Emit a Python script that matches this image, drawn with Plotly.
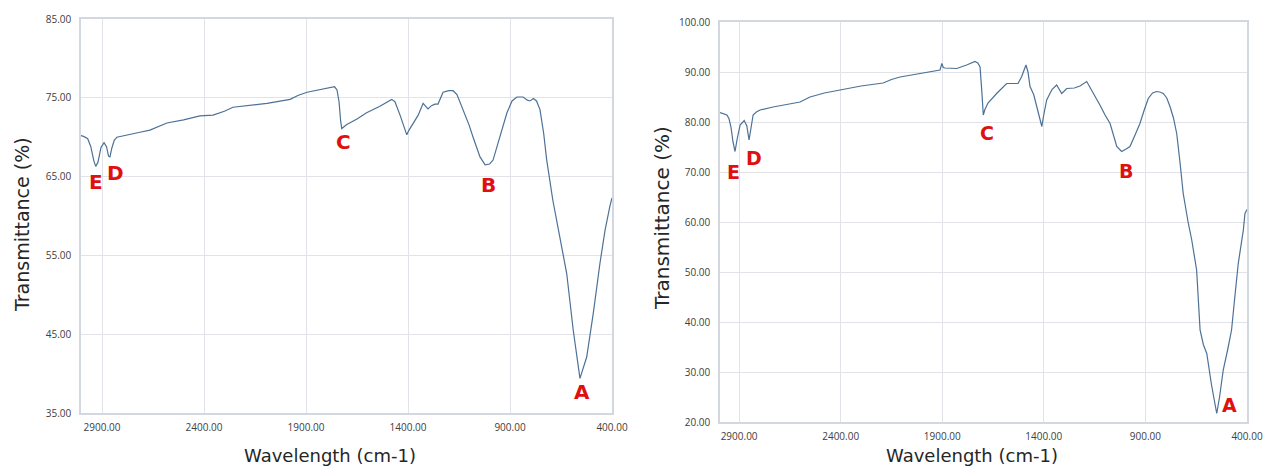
import plotly.graph_objects as go

# FTIR spectrum, first sample (wavenumber in cm-1, transmittance in %)
wn_s1 = [3003, 2990, 2970, 2955, 2940, 2931, 2920, 2905, 2890, 2878, 2868, 2861, 2852, 2840,
         2827, 2780, 2720, 2665, 2582, 2500, 2420, 2356, 2300, 2258, 2180, 2091, 1978, 1940,
         1895, 1830, 1760, 1748, 1738, 1730, 1725, 1700, 1650, 1603, 1540, 1480, 1464, 1439,
         1420, 1406, 1395, 1375, 1350, 1326, 1315, 1302, 1285, 1268, 1253, 1240, 1228, 1200,
         1179, 1160, 1130, 1100, 1081, 1060, 1047, 1022, 1000, 983, 950, 915, 890, 866, 836,
         815, 802, 785, 770, 753, 735, 720, 690, 663, 622, 590, 557, 524, 492, 459, 434, 410, 400]
t_s1 = [70.2, 70.1, 69.8, 68.8, 67.0, 66.3, 66.8, 68.7, 69.3, 68.8, 67.6, 67.5, 68.6, 69.6,
        70.0, 70.3, 70.6, 70.9, 71.8, 72.2, 72.7, 72.8, 73.3, 73.8, 74.0, 74.3, 74.8, 75.3,
        75.7, 76.0, 76.4, 76.0, 74.5, 72.0, 71.1, 71.6, 72.3, 73.1, 73.9, 74.8, 74.5, 72.8,
        71.5, 70.3, 70.9, 71.8, 72.8, 74.3, 74.0, 73.6, 74.0, 74.2, 74.2, 74.9, 75.7, 75.9,
        75.9, 75.4, 73.5, 71.5, 70.0, 68.6, 67.5, 66.5, 66.6, 67.1, 70.0, 73.1, 74.6, 75.1, 75.1,
        74.7, 74.6, 74.9, 74.6, 73.5, 70.5, 67.1, 62.0, 58.2, 52.7, 45.5, 39.4, 42.1, 47.6, 54.0,
        58.2, 61.3, 62.3]

# FTIR spectrum, second sample
wn_s2 = [2994, 2975, 2960, 2950, 2940, 2930, 2920, 2910, 2895, 2875, 2862, 2851, 2842, 2831,
         2815, 2797, 2733, 2650, 2600, 2551, 2480, 2403, 2300, 2191, 2150, 2108, 2000, 1911,
         1902, 1895, 1886, 1829, 1780, 1739, 1725, 1714, 1705, 1698, 1690, 1675, 1630, 1583,
         1527, 1509, 1488, 1478, 1468, 1450, 1435, 1410, 1400, 1386, 1360, 1337, 1312, 1287,
         1250, 1222, 1189, 1170, 1158, 1124, 1100, 1074, 1041, 1017, 995, 976, 950, 927, 905,
         886, 865, 845, 830, 812, 795, 779, 762, 746, 730, 714, 690, 672, 648, 631, 615, 598,
         575, 549, 535, 517, 495, 476, 460, 443, 418, 410, 400]
t_s2 = [81.9, 81.7, 81.4, 80.7, 79.0, 76.0, 74.1, 76.5, 79.4, 80.3, 79.2, 76.4, 78.6, 81.4,
        82.0, 82.4, 83.0, 83.6, 84.0, 85.0, 85.8, 86.4, 87.2, 87.8, 88.5, 89.0, 89.8, 90.4,
        91.7, 90.9, 90.8, 90.7, 91.4, 92.1, 91.8, 91.0, 86.0, 81.4, 82.5, 83.8, 85.8, 87.7,
        87.7, 89.1, 91.4, 90.0, 87.1, 85.5, 83.1, 79.1, 81.5, 84.4, 86.5, 87.4, 85.7, 86.7,
        86.8, 87.2, 88.1, 86.8, 85.7, 83.4, 81.5, 79.7, 75.1, 74.1, 74.6, 75.1, 77.5, 79.7, 82.5,
        84.7, 85.8, 86.1, 86.0, 85.7, 84.8, 83.1, 80.8, 77.7, 72.0, 65.7, 60.0, 56.4, 50.4, 38.4,
        35.5, 33.7, 27.5, 21.7, 25.0, 30.4, 34.5, 38.4, 45.0, 51.7, 58.4, 61.7, 62.5]

# Peak labels and their positions
peak_names = ["A", "B", "C", "D", "E"]
peak_wn_s1 = [548, 1003, 1717, 2834, 2929]
peak_t_s1 = [37.7, 63.9, 69.4, 65.5, 64.35]
peak_wn_s2 = [484, 997, 1681, 2826, 2928]
peak_t_s2 = [23.4, 70.3, 77.9, 72.9, 70.1]

x_ticks = [2900, 2400, 1900, 1400, 900, 400]
y_ticks_s1 = [35, 45, 55, 65, 75, 85]
y_ticks_s2 = [20, 30, 40, 50, 60, 70, 80, 90, 100]

W, H = 1265, 468
line_color = "#4d7196"
label_red = "#e01010"
grid_color = "#e1e3e8"
frame_color = "#d3d7df"
tick_font = dict(family="Open Sans", size=10, color="#404040")

fig = go.Figure()
fig.add_trace(go.Scatter(x=wn_s1, y=t_s1, mode="lines", xaxis="x", yaxis="y",
                         line=dict(color=line_color, width=1.2), showlegend=False))
fig.add_trace(go.Scatter(x=wn_s2, y=t_s2, mode="lines", xaxis="x2", yaxis="y2",
                         line=dict(color=line_color, width=1.2), showlegend=False))

annotations = []
for name, x, y in zip(peak_names, peak_wn_s1, peak_t_s1):
    annotations.append(dict(x=x, y=y, xref="x", yref="y", text=name, showarrow=False,
                            font=dict(family="DejaVu Sans", size=20, color=label_red, weight="bold")))
for name, x, y in zip(peak_names, peak_wn_s2, peak_t_s2):
    annotations.append(dict(x=x, y=y, xref="x2", yref="y2", text=name, showarrow=False,
                            font=dict(family="DejaVu Sans", size=19, color=label_red, weight="bold")))

# Axis titles (pixel centre, text, rotation, font size)
for xc, yc, txt, ang, fs in [(22, 225, "Transmittance (%)", -90, 19),
                             (662, 218, "Transmittance (%)", -90, 20),
                             (330, 455, "Wavelength (cm-1)", 0, 18),
                             (972, 455, "Wavelength (cm-1)", 0, 18)]:
    annotations.append(dict(x=xc / W, y=1 - yc / H, xref="paper", yref="paper", text=txt,
                            showarrow=False, textangle=ang,
                            font=dict(family="DejaVu Sans", size=fs, color="#262626"),
                            xanchor="center", yanchor="middle"))

common_x = dict(tickvals=x_ticks, tickformat=".2f", showgrid=True, gridcolor=grid_color,
                gridwidth=1, showline=True, linecolor=frame_color, linewidth=1.5, mirror=True,
                tickfont=tick_font, zeroline=False, ticks="", ticklabelstandoff=4)
common_y = dict(tickformat=".2f", showgrid=True, gridcolor=grid_color, gridwidth=1,
                showline=True, linecolor=frame_color, linewidth=1.5, mirror=True,
                tickfont=tick_font, zeroline=False, ticks="", ticklabelstandoff=6)

fig.update_layout(
    width=W, height=H, autosize=False,
    margin=dict(l=0, r=0, t=0, b=0, autoexpand=False),
    paper_bgcolor="white", plot_bgcolor="white",
    xaxis=dict(domain=[81 / W, 612 / W], range=[3003, 400], anchor="y", **common_x),
    yaxis=dict(domain=[1 - 413 / H, 1 - 19 / H], range=[35, 85], tickvals=y_ticks_s1,
               anchor="x", **common_y),
    xaxis2=dict(domain=[720 / W, 1247 / W], range=[2994, 400], anchor="y2", **common_x),
    yaxis2=dict(domain=[1 - 422 / H, 1 - 22 / H], range=[20, 100], tickvals=y_ticks_s2,
                anchor="x2", **common_y),
    annotations=annotations,
)

fig.write_html("out.html")
